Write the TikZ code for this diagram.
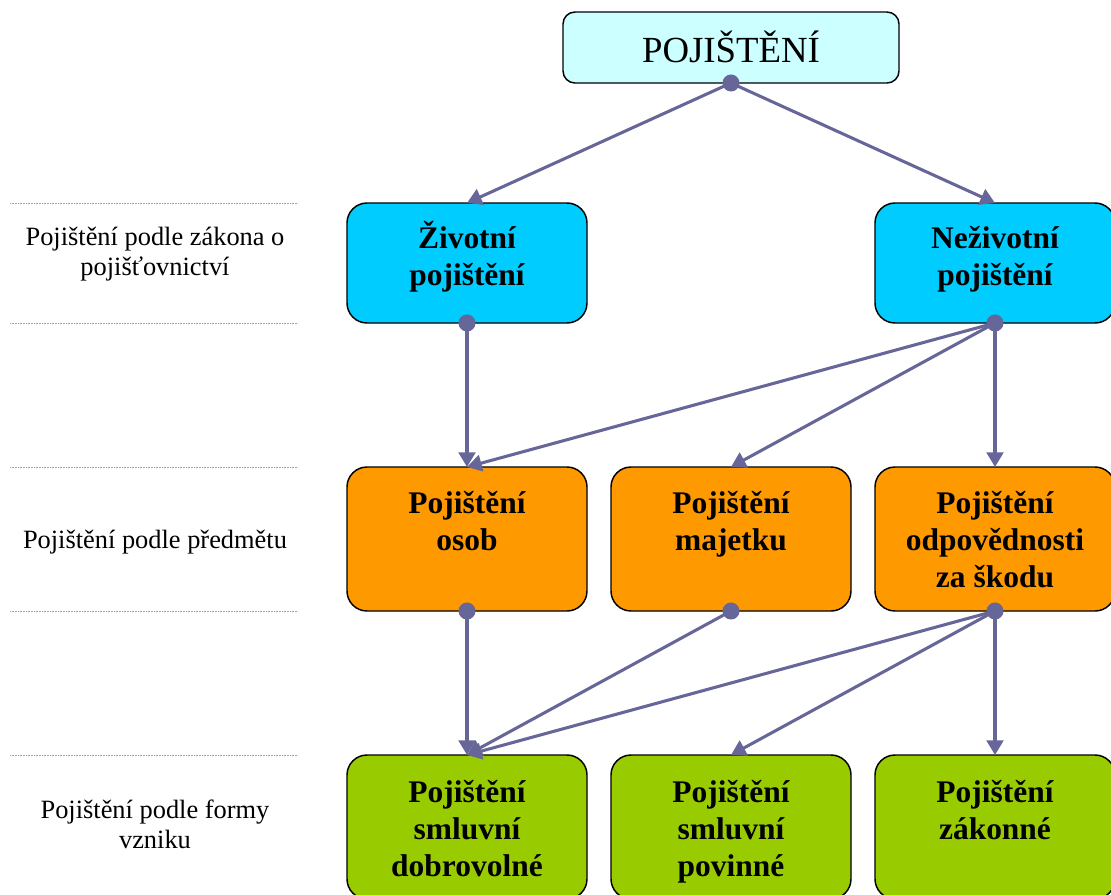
\documentclass[tikz,border=0pt]{standalone}
\usepackage{fontspec}
\setmainfont{Liberation Serif}
\usetikzlibrary{arrows.meta}
\definecolor{topfill}{HTML}{CCFFFF}
\definecolor{cyanfill}{HTML}{00CCFF}
\definecolor{orangefill}{HTML}{FF9900}
\definecolor{greenfill}{HTML}{99CC00}
\definecolor{conncol}{HTML}{666699}
\definecolor{dotline}{HTML}{A0A0A0}
\newcommand{\mylines}[1]{\parbox[t]{230pt}{\centering #1}}
\tikzset{
  box/.style={draw=black, line width=1.1pt, rounded corners=15pt, inner sep=0pt, outer sep=0pt,
    minimum width=180pt},
  rowone/.style={box, fill=cyanfill, minimum height=90pt},
  rowtwo/.style={box, fill=orangefill, minimum height=108pt},
  rowthree/.style={box, fill=greenfill, minimum height=108pt},
  topbox/.style={draw=black, line width=1.1pt, rounded corners=9pt, fill=topfill, inner sep=0pt,
    outer sep=0pt, minimum width=252pt, minimum height=53.25pt},
  boxtext/.style={anchor=base, inner sep=0pt, font=\bfseries\fontsize{23.6pt}{27.75pt}\selectfont},
  sidetext/.style={anchor=base, inner sep=0pt, font=\fontsize{19.8pt}{22.5pt}\selectfont},
  conn/.style={draw=conncol, line width=2.3pt, -{Triangle[length=11pt,width=12.5pt]}},
  conndot/.style={fill=conncol},
  sep/.style={draw=dotline, line width=0.6pt, dash pattern=on 0.6pt off 0.6pt}
}
\begin{document}
\begin{tikzpicture}[x=0.75pt, y=-0.75pt]
\useasboundingbox (0,0) rectangle (1111,894);
\clip (0,0) rectangle (1111,894);

% separators
\foreach \yy in {203,323,467,611,755} \draw[sep] (10,\yy) -- (298,\yy);

% boxes
\node[topbox] (top) at (731,47.5) {};
\node[rowone] (ziv) at (467,263) {};
\node[rowone] (nez) at (995,263) {};
\node[rowtwo] (osob) at (467,539) {};
\node[rowtwo] (maj) at (731,539) {};
\node[rowtwo] (odp) at (995,539) {};
\node[rowthree] (dobr) at (467,827) {};
\node[rowthree] (pov) at (731,827) {};
\node[rowthree] (zak) at (995,827) {};

% connectors
\draw[conn] (top.south) -- (ziv.north);
\draw[conn] (top.south) -- (nez.north);
\draw[conn] (ziv.south) -- (osob.north);
\draw[conn] (nez.south) -- (osob.north);
\draw[conn] (nez.south) -- (maj.north);
\draw[conn] (nez.south) -- (odp.north);
\draw[conn] (osob.south) -- (dobr.north);
\draw[conn] (maj.south) -- (dobr.north);
\draw[conn] (odp.south) -- (dobr.north);
\draw[conn] (odp.south) -- (pov.north);
\draw[conn] (odp.south) -- (zak.north);

% dots
\foreach \n in {top,ziv,nez,osob,maj,odp} \fill[conndot] (\n.south) circle[radius=6.4pt];

% texts
\node[anchor=base, inner sep=0pt, font=\fontsize{27.6pt}{33pt}\selectfont] (toptext) at (731,62) {POJIŠTĚNÍ};
\node[boxtext] (tziv) at (467,248) {\mylines{Životní\\pojištění}};
\node[boxtext] (tnez) at (995,248) {\mylines{Neživotní\\pojištění}};
\node[boxtext] (tosob) at (467,513) {\mylines{Pojištění\\osob}};
\node[boxtext] (tmaj) at (731,513) {\mylines{Pojištění\\majetku}};
\node[boxtext] (todp) at (995,513) {\mylines{Pojištění\\odpovědnosti\\za škodu}};
\node[boxtext] (tdobr) at (467,802) {\mylines{Pojištění\\smluvní\\dobrovolné}};
\node[boxtext] (tpov) at (731,802) {\mylines{Pojištění\\smluvní\\povinné}};
\node[boxtext] (tzak) at (995,802) {\mylines{Pojištění\\zákonné}};

\node[sidetext] (l1) at (155,245) {\mylines{Pojištění podle zákona o\\pojišťovnictví}};
\node[sidetext] (l2) at (155,548) {\mylines{Pojištění podle předmětu}};
\node[sidetext] (l3) at (155,818) {\mylines{Pojištění podle formy\\vzniku}};
\end{tikzpicture}
\end{document}
